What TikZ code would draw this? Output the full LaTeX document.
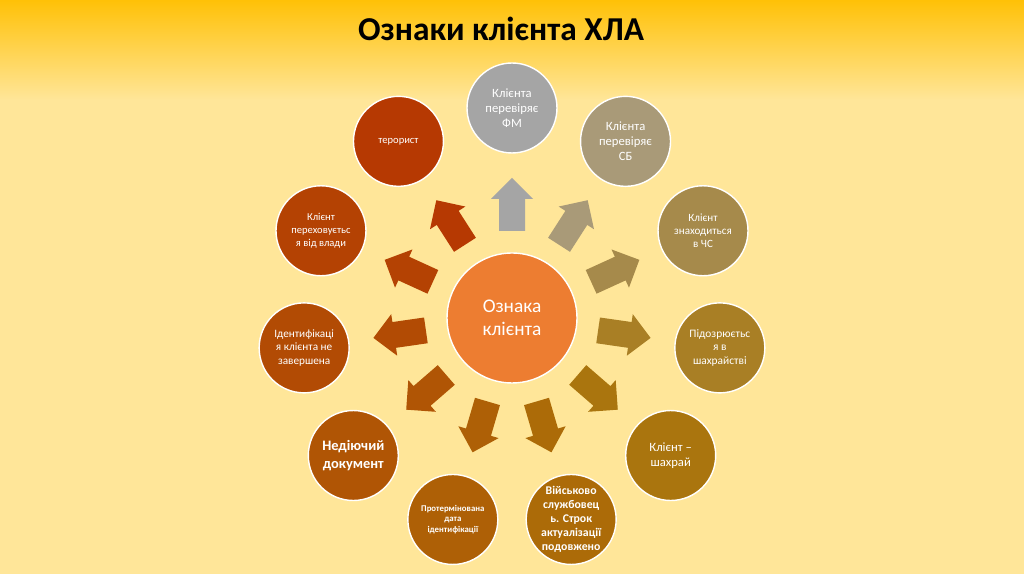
\documentclass[tikz,border=0pt]{standalone}
\usepackage{fontspec}
\setmainfont{Carlito}
\usetikzlibrary{positioning}

\definecolor{bgtop}{HTML}{FFC107}
\definecolor{bgpale}{HTML}{FFE699}
\definecolor{hubcol}{HTML}{ED7D31}
\definecolor{circ0}{HTML}{A5A5A5}
\definecolor{circ1}{HTML}{A99A78}
\definecolor{circ2}{HTML}{A68A4B}
\definecolor{circ3}{HTML}{A97F25}
\definecolor{circ4}{HTML}{AA750E}
\definecolor{circ5}{HTML}{AC6B08}
\definecolor{circ6}{HTML}{AE6006}
\definecolor{circ7}{HTML}{B05505}
\definecolor{circ8}{HTML}{B24B04}
\definecolor{circ9}{HTML}{B44203}
\definecolor{circ10}{HTML}{B63902}

\begin{document}
\begin{tikzpicture}
    [ x=0.02cm, y=0.02cm,
    every node/.style={circle, inner sep=0pt, align=center, text=white},
    item/.style={minimum size=1.8cm, draw=white, line width=0.8pt},
    hub/.style={minimum size=2.6cm, fill=hubcol, draw=white, line width=0.8pt,
      font=\fontsize{11}{13}\selectfont},
    heading/.style={rectangle, text=black, font=\fontsize{19}{23}\bfseries}
    ]

    % background
    \fill[bgpale] (0,0) rectangle (1024,574);
    \shade[top color=bgtop, bottom color=bgpale] (0,474) rectangle (1024,574);

    \node[heading] (title) at (501,545) {Ознаки клієнта ХЛА};

    \node[hub] (hub) at (512,256) {Ознака\\клієнта};

    \foreach \i/\fs/\txt in {
      0/7.2/{Клієнта\\перевіряє\\ФМ},
      1/7.2/{Клієнта\\перевіряє\\СБ},
      2/6.3/{Клієнт\\знаходиться\\в ЧС},
      3/6.5/{Підозрюєтьс\\я в\\шахрайстві},
      4/7.2/{Клієнт –\\шахрай},
      5/6.7/{\bfseries Військово\\\bfseries службовец\\\bfseries ь. Строк\\\bfseries актуалізації\\\bfseries подовжено},
      6/5/{\bfseries Протермінована\\\bfseries дата\\\bfseries ідентифікації},
      7/8.2/{\bfseries Недіючий\\\bfseries документ},
      8/6.4/{Ідентифікаці\\я клієнта не\\завершена},
      9/6/{Клієнт\\переховуєтьс\\я від влади},
      10/6/{терорист}}
    {
      \pgfmathsetmacro\a{90-\i*360/11}
      \pgfmathsetmacro\bs{1.2*\fs}
      % block arrow from the hub towards the item
      \fill[circ\i, shift={(hub.center)}, rotate=\a]
        (87,-13) -- (119,-13) -- (119,-21) -- (140,0) -- (119,21) -- (119,13) -- (87,13) -- cycle;
      \node[item, fill=circ\i, font=\fontsize{\fs}{\bs}\selectfont]
        (c\i) at ([shift={(\a:210)}]hub.center) {\txt};
    }
  \end{tikzpicture}
\end{document}
